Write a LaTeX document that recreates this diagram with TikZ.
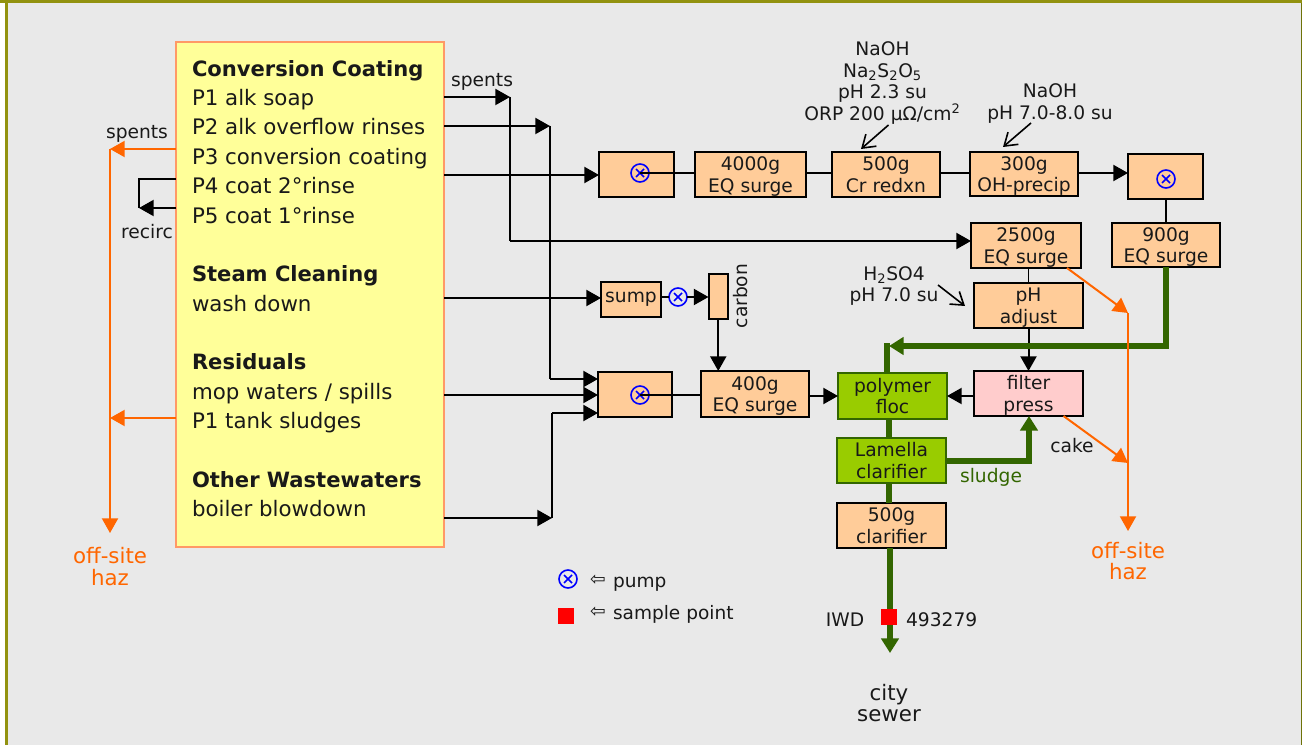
\documentclass[tikz,border=0pt]{standalone}
\usepackage{fontspec}
\setmainfont{DejaVu Sans}
\usetikzlibrary{arrows.meta}
\definecolor{bgc}{HTML}{E9E9E9}
\definecolor{olive}{HTML}{929210}
\definecolor{oliveb}{HTML}{6E7208}
\definecolor{orangebox}{HTML}{FFCC99}
\definecolor{yel}{HTML}{FFFF99}
\definecolor{mainline}{HTML}{FF9966}
\definecolor{org}{HTML}{FF6600}
\definecolor{grn}{HTML}{336600}
\definecolor{lime}{HTML}{99CC00}
\definecolor{pinkb}{HTML}{FFCCCC}
\newcommand{\bx}[7]{\node[#6,minimum width={(#4-#2)*0.75pt},minimum height={(#5-#3)*0.75pt}] (#1) at ({(#2+#4)/2},{(#3+#5)/2}) {#7};}
\tikzset{
  every node/.style={font=\fontsize{14}{16.2}\selectfont,text=black!90,inner sep=0pt,outer sep=0pt},
  tbox/.style={draw=black,line width=1.5pt,fill=orangebox,align=center,text depth=0pt},
  gbox/.style={draw=grn,line width=1.5pt,fill=lime,align=center,text depth=0pt},
  pbox/.style={draw=black,line width=1.5pt,fill=pinkb,align=center,text depth=0pt},
  mainbox/.style={draw=mainline,line width=1.7pt,fill=yel},
  lab/.style={anchor=base west,font=\fontsize{16}{18}\selectfont},
  head/.style={anchor=base west,font=\fontsize{15.8}{18}\selectfont\bfseries},
  leg/.style={anchor=base west,font=\fontsize{13.9}{16}\selectfont},
  note/.style={align=center},
  orgtext/.style={align=center,text=org,font=\fontsize{16}{16}\selectfont},
  pumpsym/.style={circle,draw=blue,line width=1.2pt,minimum size=13.5pt,
    path picture={\draw[blue,line width=1.3pt]
      ([shift={(-3pt,-3pt)}]path picture bounding box.center)--([shift={(3pt,3pt)}]path picture bounding box.center)
      ([shift={(-3pt,3pt)}]path picture bounding box.center)--([shift={(3pt,-3pt)}]path picture bounding box.center);}},
  blk/.style={draw=black,line width=1.5pt},
  flow/.style={blk,-{Triangle[length=11pt,width=12pt]}},
  thinl/.style={draw=black,line width=1.4pt},
  open/.style={draw=black,line width=1.2pt,-{Straight Barb[length=9pt,width=12pt]}},
  orgline/.style={draw=org,line width=1.5pt},
  orgflow/.style={orgline,-{Triangle[length=11pt,width=12pt]}},
  gline/.style={draw=grn,line width=4.4pt},
  gflow/.style={gline,-{Triangle[length=11pt,width=13pt]}},
  redsq/.style={fill=red,minimum width=12pt,minimum height=12pt}
}
\begin{document}
\begin{tikzpicture}[x=0.75pt,y=-0.75pt]
\useasboundingbox (0,0) rectangle (1302,745);
\fill[white] (0,0) rectangle (1302,745);
\fill[bgc] (6,3) rectangle (1301,745);
\fill[olive] (5,0) rectangle (7.5,745);
\fill[oliveb] (1300.5,0) rectangle (1302,745);
\fill[olive] (0,0) rectangle (1302,3.5);

% coordinates
\coordinate (s1) at (510,97);
\coordinate (s2) at (510,241);
\coordinate (r1) at (550,126);
\coordinate (r2) at (550,379);
\coordinate (b1) at (552,518);
\coordinate (b2) at (552,413);
\coordinate (o1) at (110,149);
\coordinate (o2) at (110,533);
\coordinate (o3) at (110,418);
\coordinate (c1) at (139,179);
\coordinate (c2) at (139,208);
\coordinate (h1) at (1128,313);
\coordinate (h2) at (1128,531);
\coordinate (h3) at (1128,463);
\coordinate (g2) at (889,346);
\coordinate (g2v) at (887,343);
\coordinate (g3) at (890,653);
\coordinate (sl1) at (1029,461);
\coordinate (a1s) at (888.5,125);
\coordinate (a1e) at (861,149);
\coordinate (a2s) at (1031,123);
\coordinate (a2e) at (1003,147);
\coordinate (a3s) at (938,285);
\coordinate (a3e) at (965,306);
\coordinate (y3) at (0,175);
\coordinate (yw) at (0,298);
\coordinate (ym) at (0,395);

% main box
\bx{main}{176}{42}{444}{547}{mainbox}{}
\node[head] (t1) at (192,76.5) {Conversion Coating};
\node[lab] (t2) at (192,105.5) {P1 alk soap};
\node[lab] (t3) at (192,135) {P2 alk overflow rinses};
\node[lab] (t4) at (192,164.5) {P3 conversion coating};
\node[lab] (t5) at (192,193.5) {P4 coat 2°rinse};
\node[lab] (t6) at (192,223.5) {P5 coat 1°rinse};
\node[head] (t7) at (192,281.5) {Steam Cleaning};
\node[lab] (t8) at (192,311) {wash down};
\node[head] (t9) at (192,369) {Residuals};
\node[lab] (t10) at (192,399) {mop waters / spills};
\node[lab] (t11) at (192,428) {P1 tank sludges};
\node[head] (t12) at (192,487) {Other Wastewaters};
\node[lab] (t13) at (192,516) {boiler blowdown};

% boxes
\bx{tankA}{599}{152}{674}{197}{tbox}{}
\bx{eqA}{695}{152}{806}{197}{tbox}{4000g\\EQ surge}
\bx{cr}{832}{152}{940}{197}{tbox}{500g\\Cr redxn}
\bx{oh}{970}{152}{1078}{196}{tbox}{300g\\OH-precip}
\bx{tankB}{1128}{154}{1203}{199}{tbox}{}
\bx{eqB}{1112}{223}{1220}{267}{tbox}{900g\\EQ surge}
\bx{eqC}{971}{223}{1081}{268}{tbox}{2500g\\EQ surge}
\bx{ph}{974}{283}{1083}{328}{tbox}{pH\\adjust}
\bx{sump}{601}{282}{661}{317}{tbox,text depth=3pt}{sump}
\bx{carbon}{708.5}{274}{728}{319}{tbox}{}
\bx{tankC}{598}{372}{672}{417}{tbox}{}
\bx{eqD}{701}{371}{809}{417}{tbox}{400g\\EQ surge}
\bx{poly}{838}{373}{947}{419}{gbox}{polymer\\floc}
\bx{filter}{974}{371}{1083}{416}{pbox}{filter\\press}
\bx{lam}{837}{438}{946}{483}{gbox}{Lamella\\clarifier}
\bx{clar}{837}{503}{946}{548}{tbox}{500g\\clarifier}

% left connectors
\draw[orgflow] (o1) -- (o2);
\draw[orgflow] (main.west |- o1) -- (o1);
\draw[orgflow] (main.west |- o3) -- (o3);
\draw[blk] (main.west |- c1) -- (c1) -- (c2);
\draw[flow] (main.west |- c2) -- (c2);

% right connectors
\draw[flow] (main.east |- s1) -- (s1);
\draw[blk] (s1) -- (s2);
\draw[flow] (s2) -- (eqC.west |- s2);
\draw[flow] (main.east |- r1) -- (r1);
\draw[blk] (r1) -- (r2);
\draw[flow] (r2) -- (tankC.west |- r2);
\draw[flow] (main.east |- y3) -- (tankA.west |- y3);
\draw[flow] (main.east |- yw) -- (sump.west |- yw);
\draw[flow] (main.east |- ym) -- (tankC.west |- ym);
\draw[flow] (main.east |- b1) -- (b1);
\draw[blk] (b1) -- (b2);
\draw[flow] (b2) -- (tankC.west |- b2);

% process connectors
\node[pumpsym] (p1) at (640,173) {};
\node[pumpsym] (p2) at (1166,179) {};
\node[pumpsym] (p3) at (678,297) {};
\node[pumpsym] (p4) at (640,395) {};
\draw[thinl] (p1.center) -- (eqA.west |- p1);
\draw[thinl] (eqA.east |- p1) -- (cr.west |- p1);
\draw[thinl] (cr.east |- p1) -- (oh.west |- p1);
\draw[flow] (oh.east |- p1) -- (tankB.west |- p1);
\draw[thinl] (tankB.south -| eqB) -- (eqB.north);
\draw[thinl] (eqC.south -| ph) -- (ph.north);
\draw[flow] (ph.south) -- (filter.north);
\draw[thinl] (sump.east |- p3) -- (p3);
\draw[flow] (p3.east) -- (carbon.west |- p3);
\draw[flow] (carbon.south) -- (eqD.north -| carbon);
\draw[thinl] (p4.center) -- (eqD.west |- p4);
\draw[flow] (eqD.east |- poly.west) -- (poly.west);
\draw[flow] (filter.west |- poly.east) -- (poly.east);

% green
\draw[gflow] (eqB.south) |- (g2);
\draw[gline] (g2v) -- (poly.north -| g2v);
\draw[gline] (poly.south -| g2) -- (lam.north -| g2);
\draw[gline] (lam.south -| g2) -- (clar.north -| g2);
\draw[gflow] (clar.south -| g3) -- (g3);
\draw[gflow] (lam.east |- sl1) -- (sl1) -- (filter.south -| sl1);

% orange right
\draw[orgflow] (eqC.south) ++(41,0) -- (h1);
\draw[orgline] (h1) -- (h3);
\draw[orgflow] (h3) -- (h2);
\draw[orgflow] (filter.south) ++(35,0) -- (h3);

% reagent arrows
\draw[open] (a1s) -- (a1e);
\draw[open] (a2s) -- (a2e);
\draw[open] (a3s) -- (a3e);

% labels
\node (lsp1) at (137,134) {spents};
\node (lrec) at (147,232) {recirc};
\node (lsp2) at (482,82) {spents};
\node[orgtext] (hz1) at (110,566.5) {off-site\\haz};
\node[orgtext] (hz2) at (1128,561) {off-site\\haz};
\node[note] (cr1) at (882.5,83) {NaOH\\Na\textsubscript{2}S\textsubscript{2}O\textsubscript{5}\\pH 2.3 su\\ORP 200 μΩ/cm\textsuperscript{2}};
\node[note] (oh1) at (1050,103.5) {NaOH\\pH 7.0-8.0 su};
\node[note] (ph1) at (894,286) {H\textsubscript{2}SO4\\pH 7.0 su};
\node[rotate=90] (lc) at (741,296) {carbon};
\node (lcake) at (1072,446) {cake};
\node[text=grn] (lsl) at (991,477) {sludge};
\node (liwd) at (845,620) {IWD};
\node[redsq] (rs1) at (888.5,617) {};
\node[anchor=west] (lnum) at (906,620) {493279};
\node[align=center,font=\fontsize{16}{16}\selectfont] (lcity) at (889,703) {city\\sewer};
\node[pumpsym] (lp) at (568,579) {};
\node (la1) at (598,580) {⇦};
\node[leg] (lpt) at (613,587) {pump};
\node[redsq] (rs2) at (566,615.5) {};
\node (la2) at (598,612) {⇦};
\node[leg] (lst) at (613,619) {sample point};
\end{tikzpicture}
\end{document}
